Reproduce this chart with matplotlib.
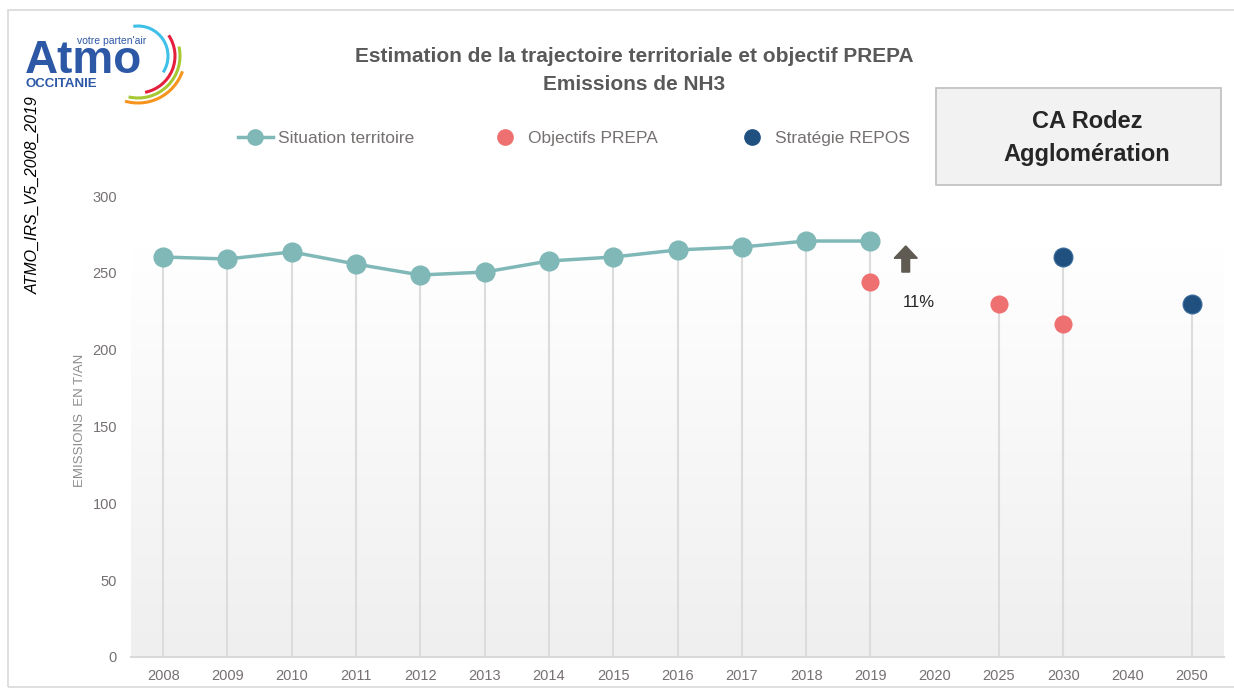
import matplotlib
matplotlib.use("Agg")
import matplotlib.pyplot as plt
import numpy as np
from matplotlib.lines import Line2D
from matplotlib.patches import Arc, FancyArrow, Rectangle

FONT = ["Liberation Sans Narrow", "Liberation Sans", "DejaVu Sans"]
plt.rcParams["font.family"] = FONT

# --- data -------------------------------------------------------------
categories = ["2008", "2009", "2010", "2011", "2012", "2013", "2014", "2015",
              "2016", "2017", "2018", "2019", "2020", "2025", "2030", "2040",
              "2050"]
situation_years = ["2008", "2009", "2010", "2011", "2012", "2013", "2014",
                   "2015", "2016", "2017", "2018", "2019"]
situation_vals = [260.3, 259.0, 263.6, 255.7, 248.6, 250.5, 257.7, 260.3,
                  264.9, 266.8, 270.7, 270.7]
prepa_years = ["2019", "2025", "2030"]
prepa_vals = [244.0, 229.7, 216.7]
repos_years = ["2030", "2050"]
repos_vals = [260.3, 229.7]
yticks = [0, 50, 100, 150, 200, 250, 300]
change_label = "11%"
legend_labels = ["Situation territoire", "Objectifs PREPA", "Stratégie REPOS"]

TEAL = "#7fb8b7"
RED = "#ef7070"
NAVY = "#1f5080"
GREY_TXT = "#595959"
TICK_TXT = "#767171"
DROP = "#dcdcdc"

idx = {c: i for i, c in enumerate(categories)}
xs_sit = [idx[c] for c in situation_years]
xs_pre = [idx[c] for c in prepa_years]
xs_rep = [idx[c] for c in repos_years]

W, H = 1234, 688
fig = plt.figure(figsize=(W / 100, H / 100), dpi=100)
fig.patch.set_facecolor("white")


def fx(px):
    return px / W


def fy(py):
    return 1 - py / H


# outer frame
fig.patches.append(Rectangle((fx(8), fy(687)), fx(1240) - fx(8), fy(10) - fy(687),
                             transform=fig.transFigure, fill=False,
                             edgecolor="#d9d9d9", lw=1.2))

# --- main axes --------------------------------------------------------
ax = fig.add_axes([fx(131), fy(657), fx(1224) - fx(131), fy(196) - fy(657)])
ax.set_xlim(-0.5, len(categories) - 0.5)

grad = np.linspace(0, 1, 256).reshape(-1, 1)
ax.imshow(grad, extent=(-0.5, len(categories) - 0.5, 0, 267), origin="upper",
          cmap=matplotlib.colors.LinearSegmentedColormap.from_list(
              "g", ["#ffffff", "#efefef"]),
          aspect="auto", zorder=0)
ax.set_ylim(0, 300)

for x, v in zip(xs_sit + xs_pre + xs_rep, situation_vals + prepa_vals + repos_vals):
    ax.plot([x, x], [0, v], color=DROP, lw=1.5, zorder=1)

ax.plot(xs_sit, situation_vals, color=TEAL, lw=2.5, marker="o", ms=13.5,
        zorder=3)
ax.scatter(xs_pre, prepa_vals, s=170, color=RED, zorder=3, linewidths=0)
ax.scatter(xs_rep, repos_vals, s=185, color=NAVY, zorder=4,
           edgecolors="#3a6a9a", linewidths=0.8)

ax.add_patch(FancyArrow(11.55, 250.5, 0, 17, width=0.12, head_width=0.36,
                        head_length=8, length_includes_head=True,
                        color="#5f5a52", zorder=5))
ax.text(11.75, 231, change_label, ha="center", va="center", fontsize=12,
        color="#262626")

for s in ["top", "right", "left"]:
    ax.spines[s].set_visible(False)
ax.spines["bottom"].set_color("#d9d9d9")
ax.spines["bottom"].set_linewidth(1.5)
ax.set_xticks(range(len(categories)))
ax.set_xticklabels(categories)
ax.set_yticks(yticks)
ax.tick_params(axis="both", length=0, colors=TICK_TXT, labelsize=10.5)
ax.tick_params(axis="x", pad=9)
ax.tick_params(axis="y", pad=10)
ax.set_facecolor("none")

fig.text(fx(80), fy(420), "EMISSIONS  EN T/AN", rotation=90, ha="center",
         va="center", fontsize=9.5, color="#8c8c8c")
fig.text(fx(33), fy(195), "ATMO_IRS_V5_2008_2019", rotation=90, ha="center",
         va="center", fontsize=11.5, style="italic", color="black")

# --- titles -----------------------------------------------------------
fig.text(fx(634), fy(57), "Estimation de la trajectoire territoriale et objectif PREPA",
         ha="center", va="center", fontsize=15, fontweight="bold", color=GREY_TXT)
fig.text(fx(634), fy(85), "Emissions de NH3", ha="center", va="center",
         fontsize=15, fontweight="bold", color=GREY_TXT)

# --- legend (one entry per legend so each sits where the reference has it)
handles = [
    Line2D([], [], color=TEAL, lw=2.5, marker="o", ms=11),
    Line2D([], [], color=RED, lw=0, marker="o", ms=11),
    Line2D([], [], color=NAVY, lw=0, marker="o", ms=11),
]
for h, lab, left in zip(handles, legend_labels, [238, 488, 735]):
    leg = fig.legend([h], [lab], loc="center left",
                     bbox_to_anchor=(fx(left), fy(138)), frameon=False,
                     fontsize=12.5, handlelength=2.0, handletextpad=0.3,
                     borderpad=0, borderaxespad=0)
    for t in leg.get_texts():
        t.set_color(TICK_TXT)

# --- territory box ----------------------------------------------------
fig.patches.append(Rectangle((fx(936), fy(185)), fx(1221) - fx(936), fy(88) - fy(185),
                             transform=fig.transFigure, facecolor="#f2f2f2",
                             edgecolor="#bfbfbf", lw=1.2))
fig.text(fx(1087), fy(121), "CA Rodez", ha="center", va="center",
         fontsize=17, fontweight="bold", color="#262626")
fig.text(fx(1087), fy(154), "Agglomération", ha="center", va="center",
         fontsize=17, fontweight="bold", color="#262626")

# --- logo -------------------------------------------------------------
lx0, ly0, lw_, lh = 15, 20, 180, 90
lax = fig.add_axes([fx(lx0), fy(ly0 + lh), fx(lw_), lh / H])
lax.set_xlim(lx0, lx0 + lw_)
lax.set_ylim(ly0 + lh, ly0)
lax.axis("off")
LOGO_BLUE = "#2d58a6"
LOGO_FONT = ["Liberation Sans", "DejaVu Sans"]
lax.text(25, 73, "Atmo", fontsize=33, fontweight="bold", color=LOGO_BLUE,
         family=LOGO_FONT, va="baseline", ha="left")
lax.text(77, 41, "votre parten'air", fontsize=7.5, color=LOGO_BLUE,
         family=LOGO_FONT, va="center", ha="left")
lax.text(26, 84, "OCCITANIE", fontsize=9.5, fontweight="bold", color=LOGO_BLUE,
         family=LOGO_FONT, va="center", ha="left")
# arcs (y axis inverted, so data angles are mirrored)
for r, t1, t2, col in [(30, -99, 33, "#3ec0e8"), (37, -34, 79, "#e5203f"),
                       (42, -13, 103, "#a6c832"), (47, 19, 106, "#f7941d")]:
    lax.add_patch(Arc((138, 56), 2 * r, 2 * r, theta1=t1, theta2=t2,
                      color=col, lw=2.2, clip_on=False))

fig.savefig("out.png", dpi=100)
